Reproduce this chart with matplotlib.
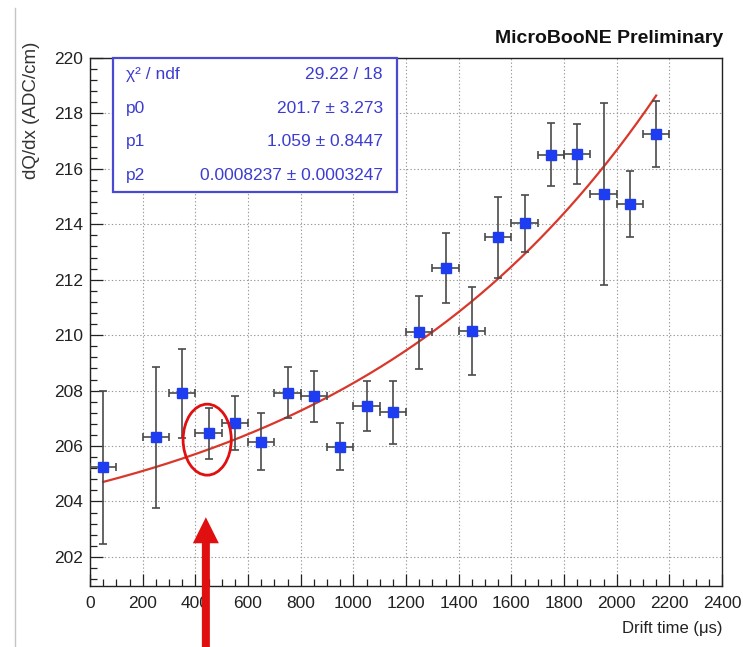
import numpy as np
import matplotlib
matplotlib.use("Agg")
import matplotlib.pyplot as plt
from matplotlib.patches import Ellipse, Rectangle, FancyArrow
from matplotlib.lines import Line2D
from matplotlib.transforms import IdentityTransform
from matplotlib.ticker import MultipleLocator, FixedLocator

plt.rcParams['font.family'] = ['Liberation Sans', 'DejaVu Sans']

# Drift-time bins (bin centres, us) and measured dQ/dx
drift_time = [50, 250, 350, 450, 550, 650, 750, 850, 950, 1050, 1150,
              1250, 1350, 1450, 1550, 1650, 1750, 1850, 1950, 2050, 2150]
dqdx = [205.23, 206.31, 207.90, 206.47, 206.83, 206.15, 207.93, 207.80,
        205.97, 207.44, 207.21, 210.10, 212.43, 210.14, 213.53, 214.03,
        216.51, 216.53, 215.09, 214.73, 217.26]
dqdx_err = [2.75, 2.55, 1.60, 0.92, 0.98, 1.03, 0.92, 0.92, 0.85, 0.90,
            1.12, 1.33, 1.27, 1.58, 1.45, 1.02, 1.13, 1.08, 3.28, 1.19, 1.18]
bin_half_width = 50

# Fit result: f(t) = p0 + exp(p1 + p2 * t)
chi2_ndf = "29.22 / 18"
p0, p0_err = 201.7, 3.273
p1, p1_err = 1.059, 0.8447
p2, p2_err = 0.0008237, 0.0003247
fit_range = (50, 2150)

highlight_time = 450

x_ticks = list(range(0, 2401, 200))
y_ticks = list(range(202, 221, 2))

W, H = 743, 647
fig = plt.figure(figsize=(W / 100, H / 100), dpi=100)
fig.patch.set_facecolor('white')
ax = fig.add_axes([90 / W, (H - 586) / H, 632 / W, 528 / H])

ax.set_xlim(0, 2400)
ax.set_ylim(200.95, 220)

ax.grid(True, which='major', color='#9a9a9a', linestyle=(0, (1.2, 2.0)), linewidth=0.8)
ax.set_axisbelow(True)

# fit curve
t = np.linspace(fit_range[0], fit_range[1], 400)
ax.plot(t, p0 + np.exp(p1 + p2 * t), color='#d8372a', linewidth=1.6, zorder=3)

# data points with error bars
ax.errorbar(drift_time, dqdx, yerr=dqdx_err, xerr=bin_half_width, fmt='s',
            color='#1e3cf0', markersize=7.5, ecolor='#4a4a4a', elinewidth=1.2,
            capsize=2.6, capthick=1.2, zorder=4)

ax.xaxis.set_major_locator(FixedLocator(x_ticks))
ax.xaxis.set_minor_locator(MultipleLocator(50))
ax.yaxis.set_major_locator(FixedLocator(y_ticks))
ax.yaxis.set_minor_locator(MultipleLocator(0.4))
ax.tick_params(which='both', direction='in', top=False, right=False, colors='#222222',
               labelsize=12.5, width=0.9)
ax.tick_params(which='major', length=9)
ax.tick_params(which='minor', length=5)
ax.tick_params(axis='x', which='major', pad=7)
ax.tick_params(axis='y', which='major', pad=5)
for s in ax.spines.values():
    s.set_linewidth(1.0)
    s.set_color('#222222')

ax.set_xlabel("Drift time (\u03bcs)", fontsize=12, color='#222222', ha='right')
ax.xaxis.set_label_coords(1.0, -0.066)
ax.set_ylabel("dQ/dx (ADC/cm)", fontsize=13.5, color='#333333', va='center')
ax.yaxis.set_label_coords(-0.092, 0.90)

fig.text(723 / W, (H - 43) / H, "MicroBooNE Preliminary", fontsize=14,
         fontweight='bold', ha='right', va='baseline', color='#111111')

# statistics box
bx0, bx1, by0, by1 = 0.0364, 0.4858, 0.7467, 1.0
ax.add_patch(Rectangle((bx0, by0), bx1 - bx0, by1 - by0, transform=ax.transAxes,
                       facecolor='white', edgecolor='#4a4ad0', linewidth=1.6,
                       zorder=6, clip_on=False))
rows = [("\u03c7\u00b2 / ndf", chi2_ndf),
        ("p0", f"{p0} \u00b1 {p0_err}"),
        ("p1", f"{p1} \u00b1 {p1_err}"),
        ("p2", f"{p2} \u00b1 {p2_err}")]
row_h = (by1 - by0) / len(rows)
for i, (name, val) in enumerate(rows):
    yy = by1 - (i + 0.5) * row_h
    ax.text(0.057, yy, name, transform=ax.transAxes, fontsize=12.5, color='#3c3cd2',
            ha='left', va='center', zorder=7)
    ax.text(0.4636, yy, val, transform=ax.transAxes, fontsize=12.5, color='#3c3cd2',
            ha='right', va='center', zorder=7)

# highlight around one point
ax.add_patch(Ellipse((highlight_time - 5, 206.23), 183, 2.56, fill=False,
                     edgecolor='#e01010', linewidth=2.0, zorder=8))

# arrow pointing up at the highlighted point
tip_x, tip_y = ax.transData.transform((highlight_time - 10, 203.43))
fig.add_artist(FancyArrow(tip_x, 0, 0, tip_y, width=8, head_width=26, head_length=26,
                          length_includes_head=True, color='#e01010', linewidth=0,
                          transform=IdentityTransform(), zorder=10))

# thin page border on the left
fig.add_artist(Line2D([15 / W, 15 / W], [0, (H - 8) / H], color='#c4c4c4', linewidth=1.0))

fig.savefig("out.png", dpi=100)
